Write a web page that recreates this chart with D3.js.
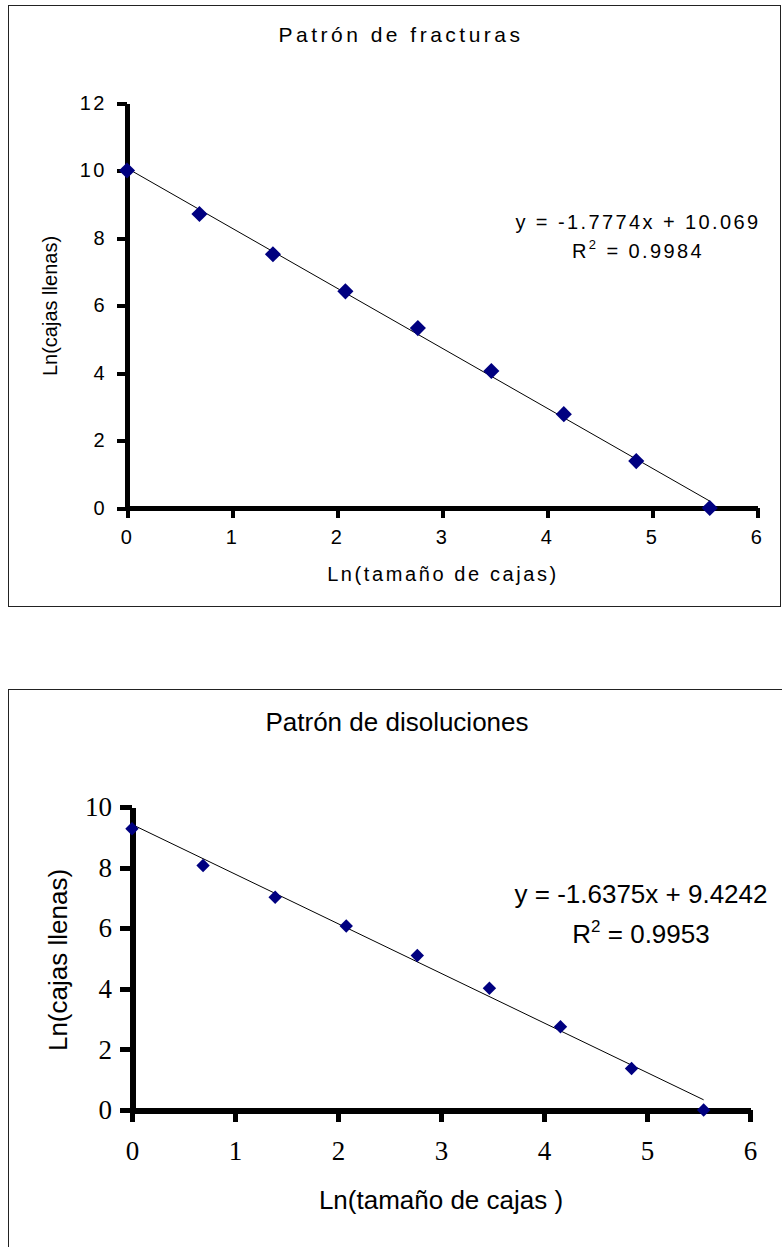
<!DOCTYPE html>
<meta charset="utf-8">
<style>
body { margin: 0; background: #fff; }
svg { display: block; }
.axis path, .axis line { stroke: #000; shape-rendering: crispEdges; }
.top text { font-family: "Liberation Sans", Arial, sans-serif; fill: #000; }
.bot text { font-family: "Liberation Sans", Arial, sans-serif; fill: #000; }
.bot .axis text { font-family: "Liberation Serif", "Times New Roman", serif; }
</style>
<body>
<script src="https://d3js.org/d3.v7.min.js"></script>
<script>

// values
var lnTamano = [0, 0.69, 1.39, 2.08, 2.77, 3.47, 4.16, 4.85, 5.55];
var lnCajasFracturas = [10.0, 8.71, 7.52, 6.42, 5.33, 4.06, 2.78, 1.39, 0];
var lnCajasDisoluciones = [9.28, 8.07, 7.02, 6.07, 5.10, 4.02, 2.75, 1.37, 0];
var trendFracturas = [-1.7774, 10.069];
var trendDisoluciones = [-1.6375, 9.4242];
var xTicks = [0, 1, 2, 3, 4, 5, 6];
var yTicksFracturas = [0, 2, 4, 6, 8, 10, 12];
var yTicksDisoluciones = [0, 2, 4, 6, 8, 10];

var svg = d3.select("body").append("svg")
    .attr("width", 782)
    .attr("height", 1247);

var fmt = d3.format("d");

var diamond = function(area) {
  return d3.symbol().type(d3.symbolSquare).size(area)();
};

// ---------- top chart ----------
var g1 = svg.append("g").attr("class", "top");

g1.append("rect")
    .attr("x", 8.5).attr("y", 5.5)
    .attr("width", 772).attr("height", 601)
    .attr("fill", "none").attr("stroke", "#222");

var x1 = d3.scaleLinear().domain([0, 6]).range([127, 757]);
var y1 = d3.scaleLinear().domain([0, 12]).range([508, 103]);

g1.append("text")
    .attr("x", 401).attr("y", 42)
    .attr("text-anchor", "middle")
    .style("font-size", "21px").style("letter-spacing", "3.5px")
    .text("Patrón de fracturas");

g1.append("g")
    .attr("class", "axis")
    .attr("transform", "translate(0," + y1(0) + ")")
    .call(d3.axisBottom(x1).tickValues(xTicks).tickFormat(fmt).tickSize(10).tickSizeOuter(0).tickPadding(12))
    .call(function(a) {
      a.select(".domain").attr("stroke-width", 5);
      a.selectAll(".tick line").attr("stroke-width", 4);
      a.selectAll("text").style("font-size", "20px").style("letter-spacing", "2.5px");
    });

g1.append("g")
    .attr("class", "axis")
    .attr("transform", "translate(" + x1(0) + ",0)")
    .call(d3.axisLeft(y1).tickValues(yTicksFracturas).tickFormat(fmt).tickSize(10).tickSizeOuter(0).tickPadding(10))
    .call(function(a) {
      a.select(".domain").attr("stroke-width", 5);
      a.selectAll(".tick line").attr("stroke-width", 4);
      a.selectAll("text").style("font-size", "20px").style("letter-spacing", "2.5px");
    });

g1.append("text")
    .attr("x", 443).attr("y", 581)
    .attr("text-anchor", "middle")
    .style("font-size", "20px").style("letter-spacing", "2.6px")
    .text("Ln(tamaño de cajas)");

g1.append("text")
    .attr("transform", "translate(57,306) rotate(-90)")
    .attr("text-anchor", "middle")
    .style("font-size", "20px")
    .text("Ln(cajas llenas)");

g1.append("line")
    .attr("x1", x1(0)).attr("y1", y1(trendFracturas[1]))
    .attr("x2", x1(lnTamano[8])).attr("y2", y1(trendFracturas[0] * lnTamano[8] + trendFracturas[1]))
    .attr("stroke", "#000").attr("stroke-width", 1);

g1.selectAll(".pt")
    .data(lnTamano)
  .enter().append("path")
    .attr("class", "pt")
    .attr("d", diamond(130))
    .attr("transform", function(d, i) { return "translate(" + x1(d) + "," + y1(lnCajasFracturas[i]) + ") rotate(45)"; })
    .attr("fill", "#000080");

g1.append("text")
    .attr("x", 638).attr("y", 229)
    .attr("text-anchor", "middle")
    .style("font-size", "20px").style("letter-spacing", "2.4px")
    .text("y = -1.7774x + 10.069");

var r1 = g1.append("text")
    .attr("x", 638).attr("y", 258)
    .attr("text-anchor", "middle")
    .style("font-size", "20px").style("letter-spacing", "2.4px");
r1.append("tspan").text("R");
r1.append("tspan").attr("dy", -9).style("font-size", "13px").text("2");
r1.append("tspan").attr("dy", 9).text(" = 0.9984");

// ---------- bottom chart ----------
var g2 = svg.append("g").attr("class", "bot");

g2.append("rect")
    .attr("x", 8.5).attr("y", 689.5)
    .attr("width", 800).attr("height", 600)
    .attr("fill", "none").attr("stroke", "#222");

var x2 = d3.scaleLinear().domain([0, 6]).range([132, 750]);
var y2 = d3.scaleLinear().domain([0, 10]).range([1110, 807]);

g2.append("text")
    .attr("x", 397).attr("y", 731)
    .attr("text-anchor", "middle")
    .style("font-size", "26px")
    .text("Patrón de disoluciones");

g2.append("g")
    .attr("class", "axis")
    .attr("transform", "translate(0," + y2(0) + ")")
    .call(d3.axisBottom(x2).tickValues(xTicks).tickFormat(fmt).tickSize(12).tickSizeOuter(0).tickPadding(19))
    .call(function(a) {
      a.select(".domain").attr("stroke-width", 6);
      a.selectAll(".tick line").attr("stroke-width", 5);
      a.selectAll("text").style("font-size", "27px");
    });

g2.append("g")
    .attr("class", "axis")
    .attr("transform", "translate(" + x2(0) + ",0)")
    .call(d3.axisLeft(y2).tickValues(yTicksDisoluciones).tickFormat(fmt).tickSize(12).tickSizeOuter(0).tickPadding(8))
    .call(function(a) {
      a.select(".domain").attr("stroke-width", 6);
      a.selectAll(".tick line").attr("stroke-width", 5);
      a.selectAll("text").style("font-size", "27px");
    });

g2.append("text")
    .attr("x", 441).attr("y", 1209)
    .attr("text-anchor", "middle")
    .style("font-size", "26px")
    .text("Ln(tamaño de cajas )");

g2.append("text")
    .attr("transform", "translate(67,960) rotate(-90)")
    .attr("text-anchor", "middle")
    .style("font-size", "26px")
    .text("Ln(cajas llenas)");

g2.append("line")
    .attr("x1", x2(0)).attr("y1", y2(trendDisoluciones[1]))
    .attr("x2", x2(lnTamano[8])).attr("y2", y2(trendDisoluciones[0] * lnTamano[8] + trendDisoluciones[1]))
    .attr("stroke", "#000").attr("stroke-width", 1);

g2.selectAll(".pt")
    .data(lnTamano)
  .enter().append("path")
    .attr("class", "pt")
    .attr("d", diamond(90))
    .attr("transform", function(d, i) { return "translate(" + x2(d) + "," + y2(lnCajasDisoluciones[i]) + ") rotate(45)"; })
    .attr("fill", "#000080");

g2.append("text")
    .attr("x", 641).attr("y", 903)
    .attr("text-anchor", "middle")
    .style("font-size", "26px")
    .text("y = -1.6375x + 9.4242");

var r2 = g2.append("text")
    .attr("x", 641).attr("y", 943)
    .attr("text-anchor", "middle")
    .style("font-size", "26px");
r2.append("tspan").text("R");
r2.append("tspan").attr("dy", -11).style("font-size", "17px").text("2");
r2.append("tspan").attr("dy", 11).text(" = 0.9953");

</script>
</body>
